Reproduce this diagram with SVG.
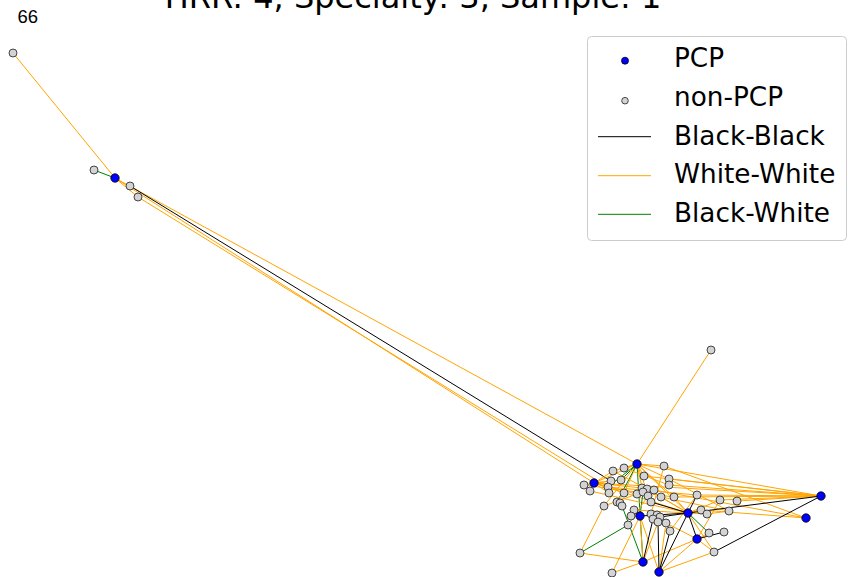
<svg xmlns="http://www.w3.org/2000/svg" width="848" height="577" viewBox="0 0 848 577">
<style>
.o{stroke:#ffa500;stroke-width:1;fill:none}
.k{stroke:#000;stroke-width:1;fill:none}
.g{stroke:#008000;stroke-width:1;fill:none}
.p{fill:#0000ff;stroke:#000;stroke-width:0.8}
.n{fill:#d3d3d3;stroke:#333;stroke-width:0.9}
.t{font-family:"DejaVu Sans",sans-serif;fill:#000}
.lg{font-size:26.3px}
</style>
<rect width="848" height="577" fill="#fff"/>
<text class="t" x="413" y="7.5" font-size="32" text-anchor="middle">HRR: 4, Specialty: 3, Sample: 1</text>
<text x="17.5" y="23.3" font-size="18.5" font-family="Liberation Sans, Arial, sans-serif">66</text>
<g id="edges">
<line class="o" x1="13" y1="53" x2="115" y2="178"/>
<line class="g" x1="94" y1="170" x2="115" y2="178"/>
<line class="o" x1="115" y1="178" x2="138" y2="197"/>
<line class="o" x1="115" y1="178" x2="637" y2="464"/>
<line class="o" x1="115" y1="178" x2="594" y2="483"/>
<line class="o" x1="138" y1="197" x2="598" y2="481"/>
<line class="k" x1="130" y1="186" x2="611" y2="481"/>
<line class="o" x1="637" y1="464" x2="711" y2="350"/>
<line class="o" x1="594" y1="483" x2="584" y2="485"/>
<line class="o" x1="594" y1="483" x2="611" y2="481"/>
<line class="o" x1="594" y1="483" x2="613" y2="471"/>
<line class="o" x1="594" y1="483" x2="608" y2="487"/>
<line class="o" x1="594" y1="483" x2="609" y2="493"/>
<line class="o" x1="594" y1="483" x2="637" y2="464"/>
<line class="o" x1="594" y1="483" x2="621" y2="480"/>
<line class="o" x1="594" y1="483" x2="624" y2="493"/>
<line class="o" x1="594" y1="483" x2="642" y2="488"/>
<line class="o" x1="594" y1="483" x2="637" y2="494"/>
<line class="o" x1="594" y1="483" x2="821" y2="496"/>
<line class="o" x1="594" y1="483" x2="688" y2="513"/>
<line class="o" x1="637" y1="464" x2="624" y2="468"/>
<line class="o" x1="637" y1="464" x2="613" y2="471"/>
<line class="o" x1="637" y1="464" x2="644" y2="476"/>
<line class="o" x1="637" y1="464" x2="664" y2="466"/>
<line class="o" x1="637" y1="464" x2="669" y2="479"/>
<line class="o" x1="637" y1="464" x2="642" y2="488"/>
<line class="o" x1="637" y1="464" x2="651" y2="502"/>
<line class="o" x1="637" y1="464" x2="674" y2="497"/>
<line class="o" x1="637" y1="464" x2="821" y2="496"/>
<line class="o" x1="637" y1="464" x2="624" y2="493"/>
<line class="o" x1="637" y1="464" x2="604" y2="506"/>
<line class="o" x1="637" y1="464" x2="688" y2="513"/>
<line class="g" x1="637" y1="464" x2="608" y2="487"/>
<line class="g" x1="637" y1="464" x2="617" y2="502"/>
<line class="g" x1="637" y1="464" x2="643" y2="562"/>
<line class="g" x1="637" y1="464" x2="621" y2="480"/>
<line class="o" x1="664" y1="466" x2="806" y2="518"/>
<line class="o" x1="664" y1="466" x2="651" y2="514"/>
<line class="o" x1="669" y1="479" x2="821" y2="496"/>
<line class="o" x1="669" y1="485" x2="821" y2="496"/>
<line class="o" x1="644" y1="476" x2="821" y2="496"/>
<line class="o" x1="674" y1="497" x2="821" y2="496"/>
<line class="o" x1="697" y1="495" x2="821" y2="496"/>
<line class="o" x1="720" y1="500" x2="821" y2="496"/>
<line class="o" x1="737" y1="501" x2="821" y2="496"/>
<line class="o" x1="654" y1="490" x2="806" y2="518"/>
<line class="o" x1="669" y1="479" x2="729" y2="511"/>
<line class="o" x1="661" y1="497" x2="729" y2="511"/>
<line class="o" x1="584" y1="485" x2="674" y2="497"/>
<line class="o" x1="590" y1="491" x2="688" y2="513"/>
<line class="o" x1="608" y1="487" x2="697" y2="495"/>
<line class="o" x1="580" y1="553" x2="604" y2="506"/>
<line class="o" x1="580" y1="553" x2="643" y2="562"/>
<line class="g" x1="580" y1="553" x2="628" y2="525"/>
<line class="g" x1="622" y1="506" x2="643" y2="562"/>
<line class="g" x1="643" y1="492" x2="640" y2="516"/>
<line class="o" x1="612" y1="573" x2="643" y2="562"/>
<line class="o" x1="612" y1="573" x2="640" y2="516"/>
<line class="o" x1="643" y1="562" x2="640" y2="516"/>
<line class="o" x1="643" y1="562" x2="697" y2="539"/>
<line class="o" x1="643" y1="562" x2="660" y2="517"/>
<line class="o" x1="659" y1="572" x2="697" y2="539"/>
<line class="o" x1="659" y1="572" x2="714" y2="552"/>
<line class="o" x1="659" y1="572" x2="640" y2="516"/>
<line class="o" x1="659" y1="572" x2="666" y2="523"/>
<line class="o" x1="697" y1="539" x2="714" y2="552"/>
<line class="o" x1="697" y1="539" x2="709" y2="533"/>
<line class="o" x1="697" y1="539" x2="666" y2="523"/>
<line class="o" x1="688" y1="513" x2="720" y2="500"/>
<line class="o" x1="688" y1="513" x2="701" y2="510"/>
<line class="o" x1="688" y1="513" x2="707" y2="514"/>
<line class="o" x1="688" y1="513" x2="674" y2="497"/>
<line class="o" x1="688" y1="513" x2="661" y2="497"/>
<line class="o" x1="688" y1="513" x2="714" y2="552"/>
<line class="o" x1="707" y1="514" x2="729" y2="511"/>
<line class="o" x1="697" y1="495" x2="670" y2="531"/>
<line class="o" x1="720" y1="500" x2="697" y2="539"/>
<line class="o" x1="634" y1="510" x2="688" y2="513"/>
<line class="o" x1="647" y1="489" x2="688" y2="513"/>
<line class="o" x1="624" y1="468" x2="669" y2="485"/>
<line class="o" x1="613" y1="471" x2="647" y2="489"/>
<line class="o" x1="604" y1="506" x2="637" y2="494"/>
<line class="o" x1="631" y1="516" x2="640" y2="516"/>
<line class="o" x1="628" y1="525" x2="648" y2="496"/>
<line class="o" x1="701" y1="510" x2="806" y2="518"/>
<line class="k" x1="821" y1="496" x2="688" y2="513"/>
<line class="k" x1="821" y1="496" x2="714" y2="552"/>
<line class="k" x1="640" y1="516" x2="688" y2="513"/>
<line class="k" x1="688" y1="513" x2="697" y2="495"/>
<line class="k" x1="688" y1="513" x2="697" y2="539"/>
<line class="k" x1="688" y1="513" x2="659" y2="572"/>
<line class="k" x1="688" y1="513" x2="651" y2="502"/>
<line class="k" x1="688" y1="513" x2="660" y2="517"/>
<line class="k" x1="697" y1="539" x2="724" y2="532"/>
<line class="k" x1="659" y1="572" x2="670" y2="531"/>
<line class="k" x1="659" y1="572" x2="658" y2="522"/>
<line class="k" x1="643" y1="562" x2="653" y2="519"/>
<line class="g" x1="688" y1="513" x2="709" y2="533"/>
</g>
<g id="nodes">
<g id="n66"><circle class="n" cx="13" cy="53" r="4"/></g>
<g id="n1"><circle class="n" cx="94" cy="170" r="4"/></g>
<g id="p1"><circle class="p" cx="115" cy="178" r="4.2"/></g>
<g id="n2"><circle class="n" cx="130" cy="186" r="4"/></g>
<g id="n3"><circle class="n" cx="138" cy="197" r="4"/></g>
<g id="n4"><circle class="n" cx="711" cy="350" r="4"/></g>
<g id="a1"><circle class="n" cx="664" cy="466" r="4"/></g>
<g id="a2"><circle class="n" cx="624" cy="468" r="4"/></g>
<g id="a3"><circle class="n" cx="613" cy="471" r="4"/></g>
<g id="a4"><circle class="n" cx="644" cy="476" r="4"/></g>
<g id="a5"><circle class="n" cx="621" cy="480" r="4"/></g>
<g id="a6"><circle class="n" cx="611" cy="481" r="4"/></g>
<g id="a7"><circle class="n" cx="669" cy="479" r="4"/></g>
<g id="a8"><circle class="n" cx="669" cy="485" r="4"/></g>
<g id="a9"><circle class="n" cx="584" cy="485" r="4"/></g>
<g id="a10"><circle class="n" cx="608" cy="487" r="4"/></g>
<g id="a11"><circle class="n" cx="590" cy="491" r="4"/></g>
<g id="a12"><circle class="n" cx="609" cy="493" r="4"/></g>
<g id="a13"><circle class="n" cx="624" cy="493" r="4"/></g>
<g id="a14"><circle class="n" cx="642" cy="488" r="4"/></g>
<g id="a15"><circle class="n" cx="647" cy="489" r="4"/></g>
<g id="a16"><circle class="n" cx="654" cy="490" r="4"/></g>
<g id="a17"><circle class="n" cx="637" cy="494" r="4"/></g>
<g id="a18"><circle class="n" cx="643" cy="492" r="4"/></g>
<g id="a19"><circle class="n" cx="648" cy="496" r="4"/></g>
<g id="a20"><circle class="n" cx="661" cy="497" r="4"/></g>
<g id="a21"><circle class="n" cx="651" cy="502" r="4"/></g>
<g id="a22"><circle class="n" cx="674" cy="497" r="4"/></g>
<g id="a23"><circle class="n" cx="697" cy="495" r="4"/></g>
<g id="a24"><circle class="n" cx="720" cy="500" r="4"/></g>
<g id="a25"><circle class="n" cx="737" cy="501" r="4"/></g>
<g id="a26"><circle class="n" cx="729" cy="511" r="4"/></g>
<g id="a27"><circle class="n" cx="604" cy="506" r="4"/></g>
<g id="a28"><circle class="n" cx="617" cy="502" r="4"/></g>
<g id="a29"><circle class="n" cx="620" cy="503" r="4"/></g>
<g id="a30"><circle class="n" cx="622" cy="506" r="4"/></g>
<g id="a31"><circle class="n" cx="634" cy="510" r="4"/></g>
<g id="a32"><circle class="n" cx="631" cy="516" r="4"/></g>
<g id="a33"><circle class="n" cx="651" cy="514" r="4"/></g>
<g id="a34"><circle class="n" cx="657" cy="515" r="4"/></g>
<g id="a35"><circle class="n" cx="660" cy="517" r="4"/></g>
<g id="a36"><circle class="n" cx="653" cy="519" r="4"/></g>
<g id="a37"><circle class="n" cx="658" cy="522" r="4"/></g>
<g id="a38"><circle class="n" cx="666" cy="523" r="4"/></g>
<g id="a39"><circle class="n" cx="670" cy="531" r="4"/></g>
<g id="a40"><circle class="n" cx="628" cy="525" r="4"/></g>
<g id="a41"><circle class="n" cx="701" cy="510" r="4"/></g>
<g id="a42"><circle class="n" cx="707" cy="514" r="4"/></g>
<g id="a43"><circle class="n" cx="709" cy="533" r="4"/></g>
<g id="a44"><circle class="n" cx="724" cy="532" r="4"/></g>
<g id="a45"><circle class="n" cx="714" cy="552" r="4"/></g>
<g id="a46"><circle class="n" cx="580" cy="553" r="4"/></g>
<g id="a47"><circle class="n" cx="612" cy="573" r="4"/></g>
<g id="p2"><circle class="p" cx="637" cy="464" r="4.2"/></g>
<g id="p3"><circle class="p" cx="594" cy="483" r="4.2"/></g>
<g id="p4"><circle class="p" cx="640" cy="516" r="4.2"/></g>
<g id="p5"><circle class="p" cx="688" cy="513" r="4.2"/></g>
<g id="p6"><circle class="p" cx="697" cy="539" r="4.2"/></g>
<g id="p7"><circle class="p" cx="643" cy="562" r="4.2"/></g>
<g id="p8"><circle class="p" cx="659" cy="572" r="4.2"/></g>
<g id="p9"><circle class="p" cx="821" cy="496" r="4.2"/></g>
<g id="p10"><circle class="p" cx="806" cy="518" r="4.2"/></g>
</g>
<g id="legend">
<rect x="587.5" y="36.5" width="259" height="204" rx="4" fill="#fff" fill-opacity="0.8" stroke="#ccc" stroke-width="1"/>
<circle class="p" cx="625" cy="60.7" r="3.5"/>
<circle class="n" cx="625" cy="100.7" r="3.3"/>
<line class="k" x1="598" y1="136.7" x2="651" y2="136.7"/>
<line class="o" x1="598" y1="175.7" x2="651" y2="175.7"/>
<line class="g" x1="598" y1="214.3" x2="651" y2="214.3"/>
<text class="t lg" x="674" y="67.3">PCP</text>
<text class="t lg" x="674" y="106">non-PCP</text>
<text class="t lg" x="674" y="144.5">Black-Black</text>
<text class="t lg" x="674" y="183.3">White-White</text>
<text class="t lg" x="674" y="222">Black-White</text>
</g>
</svg>
